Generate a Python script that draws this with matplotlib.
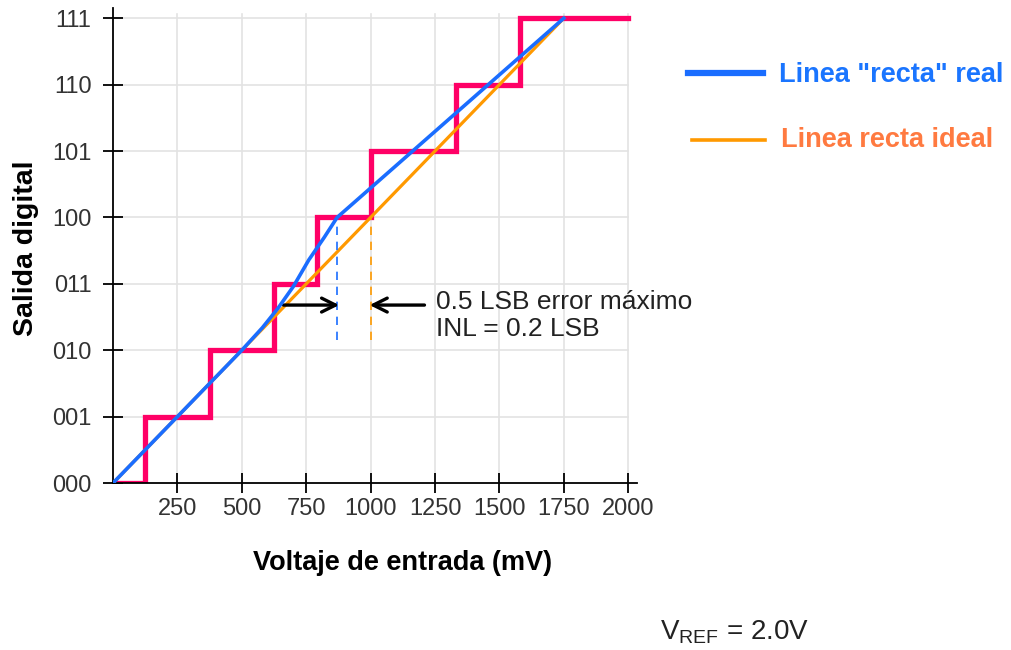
#%%
# Curva de transferencia de un ADC de 3 bits: no linealidad integral (INL)
#
import matplotlib as mpl
import matplotlib.pyplot as plt

mpl.rcParams['font.family'] = ['Liberation Sans', 'DejaVu Sans']
mpl.rcParams['mathtext.fontset'] = 'custom'
mpl.rcParams['mathtext.rm'] = 'Liberation Sans'

#
# Datos
#
codes = ['000', '001', '010', '011', '100', '101', '110', '111']
code_levels = [0, 1, 2, 3, 4, 5, 6, 7]
volt_ticks = [250, 500, 750, 1000, 1250, 1500, 1750, 2000]

# escalera real del convertidor (transiciones en mV)
step_x = [0, 125, 375, 625, 790, 1000, 1330, 1580, 2000]
step_y = [0, 1, 2, 3, 4, 5, 6, 7, 7]

# linea "recta" real (curvada entre 500 y 875 mV)
real_x = [0, 250, 500, 580, 640, 700, 760, 820, 870, 1750]
real_y = [0, 1.0, 2.0, 2.34, 2.63, 2.96, 3.36, 3.70, 4.0, 7.0]

# linea recta ideal
ideal_x = [0, 1750]
ideal_y = [0, 7]

# error maximo marcado en el codigo 100
err_real_x = 870
err_ideal_x = 1000

RED = '#ff0066'
BLUE = '#1a6dff'
ORANGE = '#ff9900'
TXT = '#222222'

fig = plt.figure(figsize=(10.11, 6.5), dpi=100)
ax = fig.add_axes([0.1118, 0.2569, 0.5185, 0.7314])
ax.set_xlim(0, 2035)
ax.set_ylim(0, 7.16)

# rejilla manual (solo hasta 111 / 2000 mV)
for v in volt_ticks:
    ax.plot([v, v], [0, 7.06], color='#e3e3e3', lw=1.2, zorder=0)
for c in code_levels[1:]:
    ax.plot([0, 2000], [c, c], color='#e3e3e3', lw=1.2, zorder=0)

ax.plot(step_x, step_y, drawstyle='steps-post', color=RED, lw=3.8,
        solid_joinstyle='miter', zorder=2)
ax.plot(ideal_x, ideal_y, color=ORANGE, lw=2.3, zorder=3)
ax.plot(real_x, real_y, color=BLUE, lw=2.6, zorder=4,
        solid_joinstyle='round')

# lineas de trazos para el error
ax.plot([err_real_x, err_real_x], [2.16, 4], color=BLUE, lw=1.2,
        ls=(0, (5, 4)), zorder=3)
ax.plot([err_ideal_x, err_ideal_x], [2.16, 4], color=ORANGE, lw=1.2,
        ls=(0, (5, 4)), zorder=3)

# flechas
arrow = dict(arrowstyle='->,head_length=1.0,head_width=0.5', color='black',
             lw=2.4, shrinkA=0, shrinkB=0)
ax.annotate('', xy=(err_real_x + 8, 2.68), xytext=(662, 2.68), arrowprops=arrow)
ax.annotate('', xy=(err_ideal_x - 4, 2.68), xytext=(1209, 2.68), arrowprops=arrow)

ax.text(1252, 2.73, '0.5 LSB error máximo', fontsize=19, color=TXT,
        va='center', ha='left')
ax.text(1252, 2.32, 'INL = 0.2 LSB', fontsize=19, color=TXT,
        va='center', ha='left')

# ejes
for s in ['top', 'right']:
    ax.spines[s].set_visible(False)
ax.spines['left'].set_linewidth(1.3)
ax.spines['bottom'].set_linewidth(1.3)
ax.set_xticks(volt_ticks)
ax.set_xticklabels([str(v) for v in volt_ticks])
ax.set_yticks(code_levels)
ax.set_yticklabels(codes)
ax.tick_params(axis='both', direction='inout', length=15, width=1.3,
               labelsize=17, labelcolor='#333333')
ax.tick_params(axis='x', pad=3)
ax.tick_params(axis='y', pad=8)

fig.text(403 / 1011, 1 - 563 / 650, 'Voltaje de entrada (mV)', fontsize=19.5,
         fontweight='bold', ha='center', va='center')
fig.text(26 / 1011, 1 - 248 / 650, 'Salida digital', fontsize=20.5,
         fontweight='bold', ha='center', va='center', rotation=90)

# leyenda dibujada a mano
fig.add_artist(plt.Line2D([688 / 1011, 763 / 1011], [1 - 73 / 650] * 2,
                          color=BLUE, lw=4.5))
fig.add_artist(plt.Line2D([692 / 1011, 765 / 1011], [1 - 140 / 650] * 2,
                          color=ORANGE, lw=2.6))
fig.text(779 / 1011, 1 - 75 / 650, 'Linea "recta" real', fontsize=19.5,
         fontweight='bold', color='#1a75ff', ha='left', va='center')
fig.text(781 / 1011, 1 - 140 / 650, 'Linea recta ideal', fontsize=19.5,
         fontweight='bold', color='#ff7a40', ha='left', va='center')

fig.text(660 / 1011, 1 - 632 / 650, r'V$_{\mathrm{REF}}$ = 2.0V', fontsize=20,
         color=TXT, ha='left', va='center')

fig.savefig('out.png', dpi=100)
